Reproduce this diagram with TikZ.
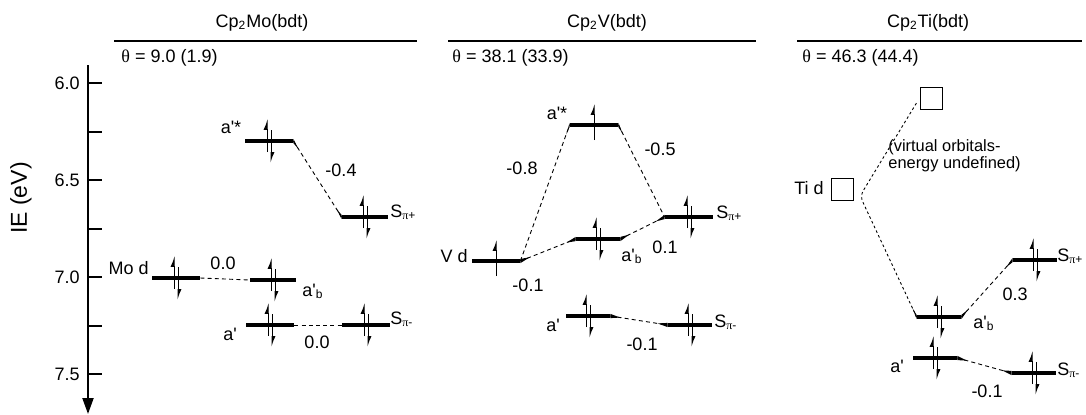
\documentclass[tikz,border=0pt]{standalone}
\usepackage{fontspec}
\setmainfont{Liberation Sans}
\newfontfamily\greekfont{Liberation Serif}
\usepackage{tikz}
\usetikzlibrary{arrows.meta, calc}
\tikzset{
    orb_level/.style={rectangle, fill=black, inner sep=0pt, minimum width=24pt, minimum height=1.7pt},
    orb_empty/.style={rectangle, draw, line width=0.5pt, inner sep=0pt, minimum size=11pt},
    e_spin/.style={line width=0.5pt, -{Latex[left, length=4.5pt, width=3.6pt]}},
    corr/.style={line width=0.45pt, dash pattern=on 2pt off 1.6pt},
    virt/.style={line width=0.45pt, dash pattern=on 1.3pt off 1.3pt},
    txt/.style={inner sep=0pt, font=\fontsize{9}{10.5}\selectfont},
    head_line/.style={line width=0.8pt},
    axis_tick/.style={line width=1pt}
}
% electrons on a level
\newcommand{\epair}[1]{%
    \draw [e_spin] ([shift={(-2,11)}]#1.center) -- ++(0,-33);
    \draw [e_spin] ([shift={(2,-11)}]#1.center) -- ++(0,33);}
\newcommand{\eone}[1]{\draw [e_spin] ([shift={(0,15)}]#1.center) -- ++(0,-36);}
% tapered end of a level towards its partner
\newcommand{\taper}[3]{\fill (#1.north #2) -- (#1.south #2) -- ($(#1.#2)!5pt!(#3)$) -- cycle;}
% Greek letters as printed
\newcommand{\thet}{{\greekfont θ}}
\newcommand{\Spi}[1]{S\textsubscript{{\greekfont π}#1}}

\begin{document}
\begin{tikzpicture}[x=0.5pt, y=-0.5pt]
    \useasboundingbox (0,0) rectangle (1086,414);

    % Energy axis
    \coordinate (ax_top) at (88,65);
    \coordinate (ax_bot) at (88,414);
    \draw [line width=1pt, -{Triangle[length=8pt, width=5.5pt]}] (ax_top) -- (ax_bot);
    \foreach \k in {0,...,6}
        \draw [axis_tick] (88,{83+48.5*\k}) -- ++(14,0);
    \foreach \v/\k in {6.0/0, 6.5/2, 7.0/4, 7.5/6}
        \node (tick_\k) [txt, anchor=east] at (80,{83+48.5*\k}) {\v};
    \node (ie_label) [font=\fontsize{11.5}{12}\selectfont, rotate=90] at (21,198) {IE (eV)};

    % Cp2Mo(bdt)
    \node (mo_title) [txt] at (262,23) {Cp\textsubscript{2}Mo(bdt)};
    \draw [head_line] (114,41) -- (417,41);
    \node (mo_theta) [txt, anchor=west] at (121,58) {\thet{} = 9.0 (1.9)};

    \node (mo_astar) [orb_level] at (269,141) {};
    \node (mo_spp) [orb_level, minimum width=23pt] at (365,217) {};
    \node (mo_d) [orb_level] at (176,278) {};
    \node (mo_ab) [orb_level, minimum width=23pt] at (273,280) {};
    \node (mo_a) [orb_level] at (270,325) {};
    \node (mo_spm) [orb_level] at (366,325) {};

    \draw [corr] (mo_astar.east) -- (mo_spp.west);
    \draw [corr] (mo_d.east) -- (mo_ab.west);
    \draw [corr] (mo_a.east) -- (mo_spm.west);
    \taper{mo_astar}{east}{mo_spp.west}
    \taper{mo_spp}{west}{mo_astar.east}

    \epair{mo_astar} \epair{mo_spp} \epair{mo_d}
    \epair{mo_ab} \epair{mo_a} \epair{mo_spm}

    \node (lbl_mo_astar) [txt] at (231,127) {a\textquotesingle*};
    \node (lbl_mo_spp) [txt, anchor=base west] at (390,217) {\Spi{+}};
    \node (lbl_mo_d) [txt, anchor=east] at (149,268) {Mo d};
    \node (lbl_mo_ab) [txt, anchor=base west] at (302,296) {a\textquotesingle\textsubscript{b}};
    \node (lbl_mo_a) [txt] at (230,334) {a\textquotesingle};
    \node (lbl_mo_spm) [txt, anchor=base west] at (390,324) {\Spi{-}};
    \node (val_mo_1) [txt] at (341,170) {-0.4};
    \node (val_mo_2) [txt] at (223,263) {0.0};
    \node (val_mo_3) [txt] at (317,342) {0.0};

    % Cp2V(bdt)
    \node (v_title) [txt] at (607,23) {Cp\textsubscript{2}V(bdt)};
    \draw [head_line] (448,41) -- (756,41);
    \node (v_theta) [txt, anchor=west] at (452,58) {\thet{} = 38.1 (33.9)};

    \node (v_astar) [orb_level] at (594,125) {};
    \node (v_d) [orb_level] at (496,261) {};
    \node (v_ab) [orb_level, minimum width=22pt] at (598,239) {};
    \node (v_spp) [orb_level] at (689,217) {};
    \node (v_a) [orb_level, minimum width=22pt] at (588,316) {};
    \node (v_spm) [orb_level, minimum width=22pt] at (690,325) {};

    \draw [corr] (v_d.east) -- (v_astar.west);
    \draw [corr] (v_astar.east) -- (v_spp.west);
    \draw [corr] (v_d.east) -- (v_ab.west);
    \draw [corr] (v_ab.east) -- (v_spp.west);
    \draw [corr] (v_a.east) -- (v_spm.west);
    \taper{v_astar}{west}{v_d.east}
    \taper{v_astar}{east}{v_spp.west}
    \taper{v_d}{east}{v_ab.west}
    \taper{v_ab}{west}{v_d.east}
    \taper{v_ab}{east}{v_spp.west}
    \taper{v_spp}{west}{v_ab.east}
    \taper{v_a}{east}{v_spm.west}
    \taper{v_spm}{west}{v_a.east}

    \eone{v_astar} \eone{v_d}
    \epair{v_ab} \epair{v_spp} \epair{v_a} \epair{v_spm}

    \node (lbl_v_astar) [txt] at (557,113) {a\textquotesingle*};
    \node (lbl_v_d) [txt, anchor=east] at (468,256) {V d};
    \node (lbl_v_ab) [txt, anchor=base west] at (621,261) {a\textquotesingle\textsubscript{b}};
    \node (lbl_v_spp) [txt, anchor=base west] at (716,218) {\Spi{+}};
    \node (lbl_v_a) [txt] at (553,325) {a\textquotesingle};
    \node (lbl_v_spm) [txt, anchor=base west] at (714,327) {\Spi{-}};
    \node (val_v_1) [txt] at (522,168) {-0.8};
    \node (val_v_2) [txt] at (660,149) {-0.5};
    \node (val_v_3) [txt] at (528,285) {-0.1};
    \node (val_v_4) [txt] at (665,247) {0.1};
    \node (val_v_5) [txt] at (642,344) {-0.1};

    % Cp2Ti(bdt)
    \node (ti_title) [txt] at (928,23) {Cp\textsubscript{2}Ti(bdt)};
    \draw [head_line] (797,41) -- (1082,41);
    \node (ti_theta) [txt, anchor=west] at (802,58) {\thet{} = 46.3 (44.4)};

    \node (ti_virt) [orb_empty] at (931,98) {};
    \node (ti_d) [orb_empty] at (842,189) {};
    \coordinate (ti_bend) at (860,196);
    \node (ti_ab) [orb_level, minimum width=22pt] at (939,317) {};
    \node (ti_spp) [orb_level, minimum width=22pt] at (1035,260) {};
    \node (ti_a) [orb_level, minimum width=22pt] at (935,358) {};
    \node (ti_spm) [orb_level, minimum width=22pt] at (1034,373) {};

    \draw [virt, rounded corners=3pt, shorten <=3pt] (ti_virt.west) -- (ti_bend) -- (ti_ab.west);
    \draw [corr] (ti_ab.east) -- (ti_spp.west);
    \draw [corr] (ti_a.east) -- (ti_spm.west);
    \taper{ti_ab}{west}{ti_bend}
    \taper{ti_ab}{east}{ti_spp.west}
    \taper{ti_spp}{west}{ti_ab.east}
    \taper{ti_a}{east}{ti_spm.west}
    \taper{ti_spm}{west}{ti_a.east}

    \epair{ti_ab} \epair{ti_spp} \epair{ti_a} \epair{ti_spm}

    \node (lbl_ti_d) [txt, anchor=east] at (824,188) {Ti d};
    \node (lbl_ti_virt) [txt, anchor=west, align=left, font=\fontsize{8.2}{8.5}\selectfont] at (888,156) {(virtual orbitals-\\energy undefined)};
    \node (lbl_ti_ab) [txt, anchor=base west] at (973,328) {a\textquotesingle\textsubscript{b}};
    \node (lbl_ti_spp) [txt, anchor=base west] at (1057,261) {\Spi{+}};
    \node (lbl_ti_a) [txt] at (897,366) {a\textquotesingle};
    \node (lbl_ti_spm) [txt, anchor=base west] at (1057,375) {\Spi{-}};
    \node (val_ti_1) [txt] at (1015,294) {0.3};
    \node (val_ti_2) [txt] at (987,391) {-0.1};
\end{tikzpicture}
\end{document}
